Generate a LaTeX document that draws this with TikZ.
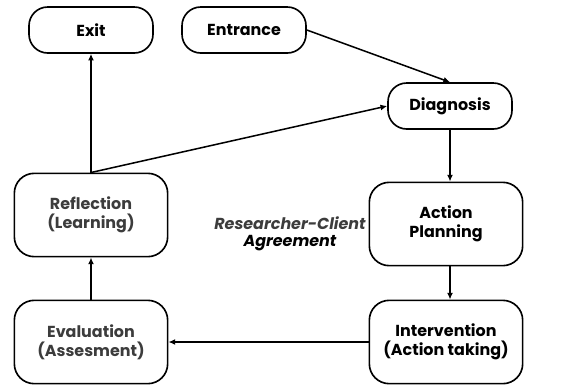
\documentclass[tikz,border=0pt]{standalone}
\usepackage{fontspec}
\setmainfont{Poppins}
\usepackage{tikz}
\usetikzlibrary{arrows.meta,positioning}
\definecolor{softblack}{HTML}{3C3C3C}

\begin{document}
\begin{tikzpicture}
[x=0.03cm, y=-0.03cm, font=\bfseries\fontsize{13.6}{16.5}\selectfont,
% STYLES
% The stage style is used for the small boxes on top
stage/.style={rectangle, rounded corners=16pt, draw, line width=1.4pt, minimum width=3.72cm, minimum height=1.38cm, align=center},
% The phase style is used for the big boxes of the cycle
phase/.style={rectangle, rounded corners=17pt, draw, line width=1.4pt, minimum width=4.6cm, minimum height=2.5cm, align=center},
flow/.style={-{Latex[length=2mm,width=1.8mm]}, line width=1.3pt}]

\useasboundingbox (0,0) rectangle (563,385);

% Draw stages
\node [stage] (exit) at (91,30) {Exit};
\node [stage] (entrance) at (244,30) {Entrance};
\node [stage] (diagnosis) at (450,106) {Diagnosis};
\node [phase] (planning) at (446,224) {Action\\Planning};
\node [phase] (intervention) at (446,342) {Intervention\\(Action taking)};
\node [phase, text=softblack] (evaluation) at (91,342) {Evaluation\\(Assesment)};
\node [phase, text=softblack] (reflection) at (91,215) {Reflection\\(Learning)};

% agreement in the middle
\node [align=center, font=\bfseries\itshape\fontsize{13.6}{15}\selectfont] (agreement) at (290,234) {\textcolor{softblack}{Researcher-Client}\\Agreement};

% Draw the links between stages
\draw [flow] (entrance.east) -- (diagnosis.north);
\draw [flow] (diagnosis.south) -- (diagnosis.south |- planning.north);
\draw [flow] (diagnosis.south |- planning.south) -- (diagnosis.south |- intervention.north);
\draw [flow] (intervention.west) -- (evaluation.east);
\draw [flow] (evaluation.north) -- (reflection.south);
\draw [flow] (reflection.north) -- (exit.south);
\draw [flow] (reflection.north) -- (diagnosis.west);

\end{tikzpicture}
\end{document}
